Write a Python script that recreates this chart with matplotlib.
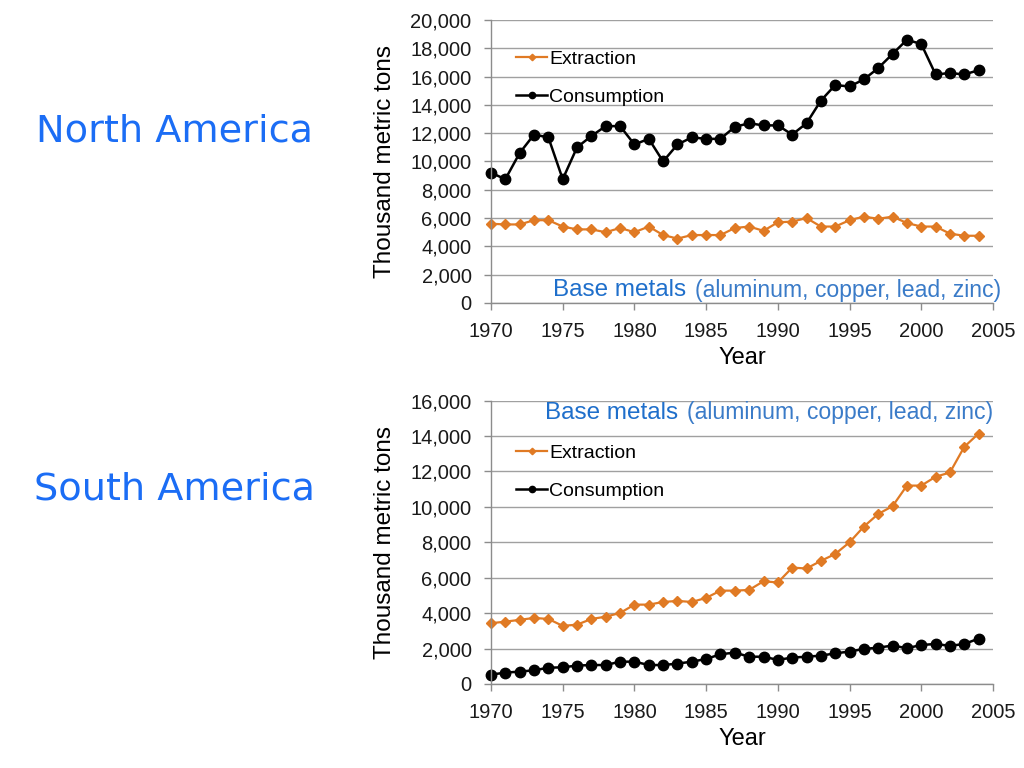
import matplotlib
matplotlib.use('Agg')
import matplotlib.pyplot as plt
from matplotlib.ticker import FuncFormatter

plt.rcParams['font.family'] = ['Liberation Sans', 'DejaVu Sans']

years = list(range(1970, 2005))

# North America, thousand metric tons
na_extraction = [5600, 5550, 5550, 5850, 5850, 5400, 5200, 5200, 5000, 5300,
                 5000, 5400, 4800, 4550, 4800, 4800, 4800, 5300, 5400, 5100,
                 5700, 5750, 6000, 5400, 5400, 5850, 6100, 5950, 6100, 5650,
                 5400, 5400, 4900, 4750, 4750]
na_consumption = [9200, 8750, 10600, 11900, 11700, 8750, 11000, 11800, 12500, 12500,
                  11200, 11600, 10000, 11200, 11700, 11600, 11600, 12450, 12700, 12550,
                  12550, 11900, 12700, 14300, 15400, 15300, 15800, 16600, 17600, 18600,
                  18300, 16150, 16250, 16150, 16450]

# South America, thousand metric tons
sa_extraction = [3430, 3520, 3620, 3730, 3670, 3280, 3350, 3670, 3800, 4010,
                 4480, 4480, 4630, 4690, 4630, 4860, 5270, 5270, 5310, 5800,
                 5730, 6570, 6520, 6950, 7340, 8000, 8890, 9600, 10040, 11200,
                 11200, 11700, 11940, 13390, 14140]
sa_consumption = [530, 640, 700, 770, 920, 940, 1040, 1070, 1070, 1260,
                  1260, 1070, 1070, 1150, 1260, 1410, 1680, 1770, 1540, 1540,
                  1360, 1490, 1540, 1600, 1730, 1830, 1980, 2050, 2170, 2020,
                  2200, 2260, 2150, 2260, 2560]

ORANGE = '#E07A24'
TITLE_BLUE = '#1B6DF5'
NOTE_BLUE = '#1F6FCB'
GRAY = '#8C8C8C'


def style_axis(ax, ymax, ystep):
    ax.set_xlim(1970, 2005)
    ax.set_ylim(0, ymax)
    ax.set_xticks(range(1970, 2006, 5))
    ax.set_yticks(range(0, ymax + 1, ystep))
    ax.yaxis.set_major_formatter(FuncFormatter(lambda v, p: f'{int(v):,}'))
    ax.grid(axis='y', color='#A0A0A0', linewidth=1)
    ax.set_axisbelow(True)
    for s in ['top', 'right']:
        ax.spines[s].set_visible(False)
    for s in ['left', 'bottom']:
        ax.spines[s].set_color(GRAY)
        ax.spines[s].set_linewidth(1)
    ax.tick_params(axis='both', colors=GRAY, labelcolor='#1a1a1a',
                   labelsize=14.5, length=5, width=1, direction='out')
    ax.tick_params(axis='y', pad=9)
    ax.tick_params(axis='x', pad=9)
    ax.set_xlabel('Year', fontsize=17, labelpad=4)
    ax.set_ylabel('Thousand metric tons', fontsize=17.5, labelpad=10)


def plot_panel(ax, extraction, consumption):
    ax.plot(years, extraction, color=ORANGE, marker='D', markersize=5.5,
            linewidth=1.6, label='Extraction', clip_on=False)
    ax.plot(years, consumption, color='black', marker='o', markersize=7.5,
            linewidth=1.8, label='Consumption', clip_on=False)


fig = plt.figure(figsize=(10.24, 7.68), dpi=100)

ax1 = fig.add_axes([0.4795, 0.6055, 0.4902, 0.3685])
plot_panel(ax1, na_extraction, na_consumption)
style_axis(ax1, 20000, 2000)
ax1.legend(loc='upper left', bbox_to_anchor=(0.035, 0.921), frameon=False,
           fontsize=14, markerscale=0.6, handlelength=1.6, handletextpad=0.1,
           labelspacing=1.05, borderaxespad=0)

ax2 = fig.add_axes([0.4795, 0.1094, 0.4902, 0.369])
plot_panel(ax2, sa_extraction, sa_consumption)
style_axis(ax2, 16000, 2000)
ax2.legend(loc='upper left', bbox_to_anchor=(0.035, 0.872), frameon=False,
           fontsize=14, markerscale=0.6, handlelength=1.6, handletextpad=0.1,
           labelspacing=1.05, borderaxespad=0)


def base_metals_note(x, y):
    t = fig.text(x, y, 'Base metals', fontsize=17.5, color=NOTE_BLUE,
                 ha='left', va='center')
    fig.canvas.draw()
    bb = t.get_window_extent()
    x2 = (bb.x1 + 9) / fig.bbox.width
    fig.text(x2, y, '(aluminum, copper, lead, zinc)', fontsize=16.6,
             color='#3A7BC8', ha='left', va='center')


base_metals_note(553 / 1024, 1 - 290 / 768)
base_metals_note(545 / 1024, 1 - 413 / 768)

fig.text(175 / 1024, 1 - 132 / 768, 'North America', fontsize=27.5,
         color=TITLE_BLUE, ha='center', va='center', family='DejaVu Sans')
fig.text(175 / 1024, 1 - 490 / 768, 'South America', fontsize=27.5,
         color=TITLE_BLUE, ha='center', va='center', family='DejaVu Sans')

fig.savefig('out.png', dpi=100)
